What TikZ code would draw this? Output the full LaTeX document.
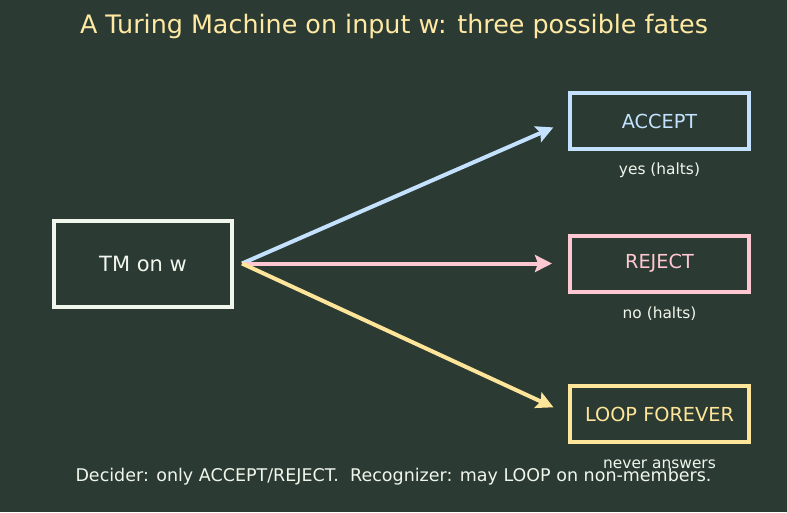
\documentclass[tikz,border=0pt]{standalone}
\usepackage{fontspec}
\setmainfont{DejaVu Sans}
\usetikzlibrary{arrows.meta,positioning}
\definecolor{bgc}{HTML}{2B3B33}
\definecolor{acc}{HTML}{C4E2FF}
\definecolor{rej}{HTML}{FFC7D2}
\definecolor{lop}{HTML}{FFE59A}
\definecolor{wht}{HTML}{F1F6EC}
\definecolor{ttl}{HTML}{FFE9A3}
\begin{document}
\begin{tikzpicture}[x=1pt,y=-1pt,
  fate/.style={draw=#1,line width=4pt,minimum width=179pt,minimum height=56pt,
    text=#1,font=\fontsize{19.3}{22}\selectfont},
  note/.style={text=wht,font=\fontsize{15.4}{18}\selectfont},
  flow/.style={draw=#1,line width=4pt,-{Stealth[length=17pt,width=17pt,inset=3pt]},
    shorten >=16pt}]
  \fill[bgc] (0,0) rectangle (787,512);
  \useasboundingbox (0,0) rectangle (787,512);
  % --- title ---
  \node[text=ttl,font=\fontsize{25.4}{29}\selectfont] (title) at (394,26)
    {A Turing Machine on input w: three possible fates};
  % --- machine ---
  \node[draw=wht,line width=4pt,minimum width=178pt,minimum height=86pt,
    text=wht,font=\fontsize{21}{24}\selectfont] (tm) at (143,263.5) {TM on w};
  \coordinate[right=8pt of tm.east] (fork);
  % --- the three outcomes ---
  \node[fate=acc] (accept) at (659.5,121) {ACCEPT};
  \node[fate=rej] (reject) at (659.5,263.5) {REJECT};
  \node[fate=lop] (loop) at (659.5,414) {LOOP FOREVER};
  \node[note] (yes) at (659.5,170) {yes (halts)};
  \node[note] (no) at (659.5,314) {no (halts)};
  \node[note] (never) at (659.5,464) {never answers};
  \draw[flow=acc] (fork) -- (accept.west);
  \draw[flow=rej] (fork) -- (reject.west);
  \draw[flow=lop] (fork) -- (loop.west);
  % --- footnote ---
  \node[text=wht,font=\fontsize{17.5}{20}\selectfont] (foot) at (393.5,477)
    {Decider: only ACCEPT/REJECT.\ \ Recognizer: may LOOP on non-members.};
\end{tikzpicture}
\end{document}
